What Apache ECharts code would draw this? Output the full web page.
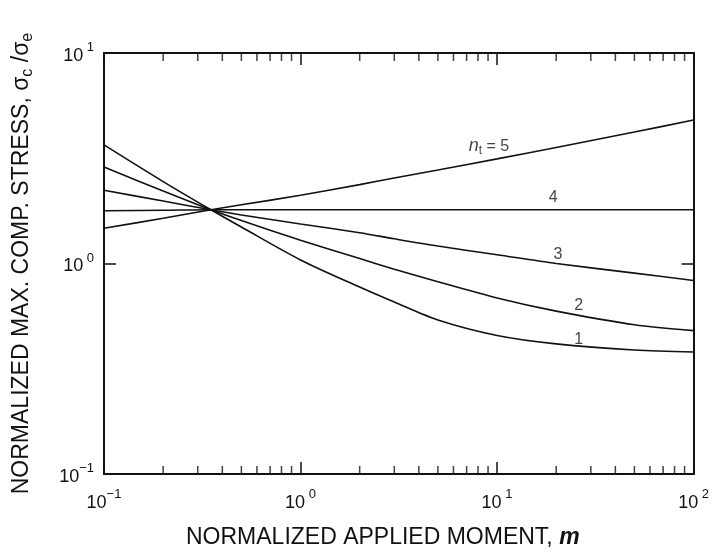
<!DOCTYPE html>
<html>
<head>
<meta charset="utf-8">
<script src="https://cdn.jsdelivr.net/npm/echarts@6/dist/echarts.min.js"></script>
<style>
html, body { margin: 0; padding: 0; background: #fff; }
#chart { width: 712px; height: 555px; }
</style>
</head>
<body>
<div id="chart"></div>
<script>
// normalized applied moment m (x) and normalized max. comp. stress (y)
const mValues = [0.1, 0.2, 0.35, 0.5, 1, 2, 3, 5, 10, 20, 50, 100];
const stressN1 = [3.66, 2.45, 1.80, 1.49, 1.04, 0.773, 0.656, 0.539, 0.455, 0.415, 0.388, 0.38];
const stressN2 = [2.87, 2.21, 1.80, 1.60, 1.29, 1.055, 0.94, 0.819, 0.686, 0.594, 0.512, 0.48];
const stressN3 = [2.23, 1.98, 1.80, 1.70, 1.54, 1.40, 1.31, 1.21, 1.10, 1.00, 0.90, 0.83];
const stressN4 = [1.78, 1.79, 1.80, 1.80, 1.80, 1.80, 1.80, 1.80, 1.80, 1.80, 1.80, 1.80];
const stressN5 = [1.47, 1.64, 1.80, 1.90, 2.11, 2.37, 2.55, 2.78, 3.14, 3.56, 4.21, 4.81];

// curve labels (n_t) and where they sit, in data units
const curveLabels = ['1', '2', '3', '4', '{i|n}{sub|t}{n| = 5}'];
const curveLabelM = [26, 26, 20.4, 19.3, 9.1];
const curveLabelS = [0.437, 0.628, 1.10, 2.05, 3.61];

// minor tick values on the x axis (2..9 in each decade)
const minorTicksX = [0.2, 0.3, 0.4, 0.5, 0.6, 0.7, 0.8, 0.9,
  2, 3, 4, 5, 6, 7, 8, 9, 20, 30, 40, 50, 60, 70, 80, 90];

const xMin = 0.1, xMax = 100, yMin = 0.1, yMax = 10;
const FONT = 'Liberation Sans, Arial, Helvetica, sans-serif';
const INK = '#111';

function powLabel(v) {
  const e = Math.round(Math.log10(v));
  return '{b|10}{s|' + (e < 0 ? '\u2212' + (-e) : ' ' + e) + '}';
}
const powRich = {
  b: { fontSize: 18, fontFamily: FONT, color: INK, lineHeight: 24, verticalAlign: 'bottom' },
  s: { fontSize: 13, fontFamily: FONT, color: INK, lineHeight: 14, verticalAlign: 'top' }
};

function curve(vals) {
  return {
    type: 'line',
    data: mValues.map((m, i) => [m, vals[i]]),
    showSymbol: false,
    smooth: 0.3,
    silent: true,
    lineStyle: { color: INK, width: 1.6 },
    z: 3
  };
}

function tickSeries(yVal, offset, xIdx) {
  return {
    type: 'scatter',
    xAxisIndex: xIdx,
    data: minorTicksX.map(v => [v, yVal]),
    symbol: 'rect',
    symbolSize: [1.5, 8],
    symbolOffset: [0, offset],
    itemStyle: { color: INK },
    clip: false,
    silent: true
  };
}

const axisLineStyle = { show: true, lineStyle: { color: INK, width: 2 } };
const majorTick = { show: true, inside: true, length: 12, lineStyle: { color: INK, width: 1.5 } };

const chart = echarts.init(document.getElementById('chart'));
chart.setOption({
  backgroundColor: '#fff',
  animation: false,
  grid: { left: 100, right: 12, top: 53, bottom: 81 },
  xAxis: [{
    type: 'log', logBase: 10, min: xMin, max: xMax,
    axisLine: axisLineStyle,
    axisTick: majorTick,
    splitLine: { show: false },
    axisLabel: { formatter: powLabel, rich: powRich, margin: 14 },
    name: 'NORMALIZED APPLIED MOMENT, {m|m}',
    nameLocation: 'middle',
    nameGap: 52,
    nameTextStyle: {
      fontSize: 23, fontFamily: FONT, color: INK, padding: [0, 32, 0, 0],
      rich: { m: { fontSize: 23, fontFamily: FONT, fontStyle: 'italic', fontWeight: 'bold', color: INK } }
    }
  }, {
    type: 'log', logBase: 10, min: xMin, max: xMax, position: 'top',
    axisLine: axisLineStyle,
    axisTick: majorTick,
    axisLabel: { show: false },
    splitLine: { show: false }
  }],
  yAxis: [{
    type: 'log', logBase: 10, min: yMin, max: yMax,
    axisLine: axisLineStyle,
    axisTick: majorTick,
    splitLine: { show: false },
    axisLabel: { formatter: powLabel, rich: powRich, margin: 10 },
    name: 'NORMALIZED MAX. COMP. STRESS, \u03c3{sub|c} /\u03c3{sub|e}',
    nameLocation: 'middle',
    nameRotate: 90,
    nameGap: 68,
    nameTextStyle: {
      fontSize: 23, fontFamily: FONT, color: INK, lineHeight: 28,
      rich: { sub: { fontSize: 16, fontFamily: FONT, color: INK, lineHeight: 16, verticalAlign: 'bottom' } }
    }
  }, {
    type: 'log', logBase: 10, min: yMin, max: yMax, position: 'right',
    axisLine: axisLineStyle,
    axisTick: majorTick,
    axisLabel: { show: false },
    splitLine: { show: false }
  }],
  series: [
    curve(stressN1),
    curve(stressN2),
    curve(stressN3),
    curve(stressN4),
    curve(stressN5),
    tickSeries(yMin, -4, 0),
    tickSeries(yMax, 4, 0),
    {
      type: 'scatter',
      data: curveLabels.map((t, i) => [curveLabelM[i], curveLabelS[i]]),
      symbolSize: 0,
      silent: true,
      clip: false,
      label: {
        show: true,
        position: 'inside',
        formatter: p => curveLabels[p.dataIndex],
        fontSize: 16,
        fontFamily: FONT,
        color: INK,
        rich: {
          i: { fontSize: 18, fontFamily: FONT, fontStyle: 'italic', color: INK, lineHeight: 22 },
          sub: { fontSize: 12, fontFamily: FONT, color: INK, lineHeight: 12, verticalAlign: 'bottom' },
          n: { fontSize: 16, fontFamily: FONT, color: INK, lineHeight: 22 }
        }
      }
    }
  ]
});
</script>
</body>
</html>
